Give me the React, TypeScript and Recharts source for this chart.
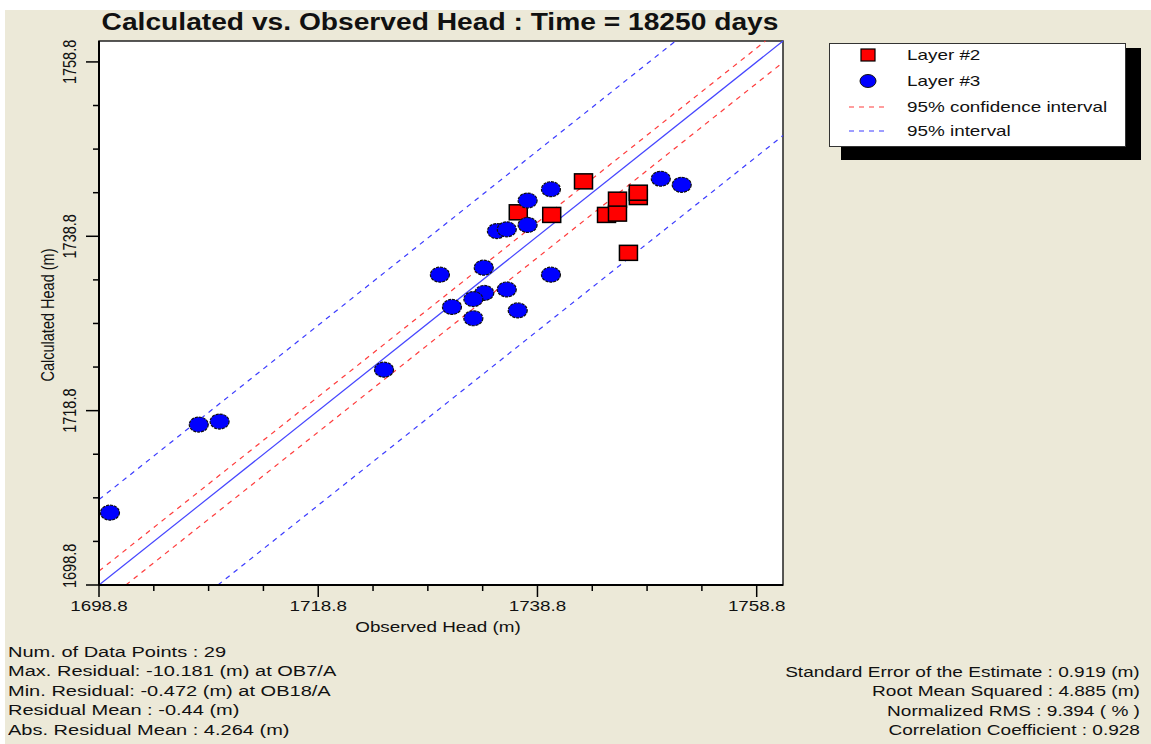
import React from 'react';
import { ScatterChart, Scatter, XAxis, YAxis, CartesianGrid, ReferenceLine, ReferenceArea } from 'recharts';

const DOMAIN: [number, number] = [1698.8, 1761.2];
const AXIS_TICKS = [1698.8, 1703.8, 1708.8, 1713.8, 1718.8, 1723.8, 1728.8, 1733.8, 1738.8, 1743.8, 1748.8, 1753.8, 1758.8];
const LABELLED_TICKS = [1698.8, 1718.8, 1738.8, 1758.8];

// Layer #2 (red squares)
const layer2Observed = [1743.0, 1737.05, 1740.1, 1746.1, 1748.0, 1748.0, 1745.1, 1746.1, 1747.1];
const layer2Calculated = [1745.1, 1741.55, 1741.25, 1743.0, 1743.3, 1743.8, 1741.25, 1741.4, 1736.9];

// Layer #3 (blue dots)
const layer3Observed = [
  1750.05, 1751.96, 1740.03, 1737.9, 1737.9, 1735.1, 1736.0, 1729.9, 1733.9, 1740.03,
  1733.95, 1736.0, 1732.95, 1731.0, 1732.95, 1737.0, 1724.8, 1707.9, 1709.8, 1699.8,
];
const layer3Calculated = [
  1745.4, 1744.7, 1744.2, 1742.9, 1740.1, 1739.4, 1739.6, 1734.4, 1735.2, 1734.4,
  1732.3, 1732.7, 1731.6, 1730.7, 1729.4, 1730.3, 1723.5, 1717.2, 1717.55, 1707.1,
];

// offsets of the interval lines from the 1:1 line
const CONFIDENCE_OFFSETS = [1.6, -2.45];
const INTERVAL_OFFSETS = [9.8, -10.85];

const LEFT_STATS = [
  'Num. of Data Points : 29',
  'Max. Residual: -10.181 (m) at OB7/A',
  'Min. Residual: -0.472 (m) at OB18/A',
  'Residual Mean : -0.44 (m)',
  'Abs. Residual Mean : 4.264 (m)',
];
const RIGHT_STATS = [
  'Standard Error of the Estimate : 0.919 (m)',
  'Root Mean Squared : 4.885 (m)',
  'Normalized RMS : 9.394 ( % )',
  'Correlation Coefficient : 0.928',
];

const FONT = '"Liberation Sans", Arial, sans-serif';
const STRETCH = 1.3;

const layer2 = layer2Observed.map((x, i) => ({ x, y: layer2Calculated[i] }));
const layer3 = layer3Observed.map((x, i) => ({ x, y: layer3Calculated[i] }));

// clip y = x + c to the square domain
const segmentFor = (c: number) => {
  const [lo, hi] = DOMAIN;
  const x1 = Math.max(lo, lo - c);
  const x2 = Math.min(hi, hi - c);
  return [
    { x: x1, y: x1 + c },
    { x: x2, y: x2 + c },
  ];
};

const SquareMark = (props: any) => {
  const { cx, cy } = props;
  if (cx == null || cy == null) return null;
  return <rect x={cx - 9} y={cy - 7.5} width={18} height={15} fill="#ff0000" stroke="#000" strokeWidth={1.5} />;
};

const DotMark = (props: any) => {
  const { cx, cy } = props;
  if (cx == null || cy == null) return null;
  return <ellipse cx={cx} cy={cy} rx={9.5} ry={7.5} fill="#0000ff" stroke="#111" strokeWidth={1.2} strokeDasharray="3 1" />;
};

const XTick = (props: any) => {
  const { x, y, payload } = props;
  const major = LABELLED_TICKS.includes(payload.value);
  return (
    <g>
      <line x1={x} y1={y} x2={x} y2={y + (major ? 12 : 6)} stroke="#000" strokeWidth={1.5} />
      {major && (
        <text
          x={x}
          y={y + 26}
          textAnchor="middle"
          fontSize={14.5}
          fontFamily={FONT}
          fill="#111"
          transform={`translate(${x} 0) scale(${STRETCH} 1) translate(${-x} 0)`}
        >
          {payload.value.toFixed(1)}
        </text>
      )}
    </g>
  );
};

const YTick = (props: any) => {
  const { x, y, payload } = props;
  const major = LABELLED_TICKS.includes(payload.value);
  const isMin = payload.value === DOMAIN[0];
  const tx = x - 23;
  const ty = isMin ? y + 3 : y;
  return (
    <g>
      <line x1={x} y1={y} x2={x - (major ? 13 : 6)} y2={y} stroke="#000" strokeWidth={1.5} />
      {major && (
        <text
          x={0}
          y={0}
          textAnchor={isMin ? 'start' : 'middle'}
          fontSize={14.5}
          fontFamily={FONT}
          fill="#111"
          transform={`translate(${tx} ${ty}) scale(${STRETCH} 1) rotate(-90)`}
        >
          {payload.value.toFixed(1)}
        </text>
      )}
    </g>
  );
};

const stretched = (origin: string, k: number = STRETCH): React.CSSProperties => ({
  transform: `scaleX(${k})`,
  transformOrigin: origin,
  whiteSpace: 'nowrap',
});

const LegendRow = ({ top, marker, label }: { top: number; marker: React.ReactNode; label: string }) => (
  <div style={{ position: 'absolute', left: 0, top: top - 10, height: 20, width: 290 }}>
    <svg width={60} height={20} style={{ position: 'absolute', left: 14, top: 0 }}>
      {marker}
    </svg>
    <div style={{ position: 'absolute', left: 77, top: 0, lineHeight: '20px', fontSize: 14.5, ...stretched('left') }}>{label}</div>
  </div>
);

export default function App() {
  return (
    <div
      style={{
        position: 'absolute',
        left: 0,
        top: 0,
        width: 1151,
        height: 744,
        background: '#ffffff',
        fontFamily: FONT,
        color: '#111',
        overflow: 'hidden',
      }}
    >
      <div style={{ position: 'absolute', left: 5, top: 10, right: 0, bottom: 0, background: '#ece9d8' }} />

      <div style={{ position: 'absolute', left: 0, top: 0 }}>
        <ScatterChart width={1151} height={744} margin={{ top: 41, right: 368, bottom: 0, left: 0 }}>
          <CartesianGrid horizontal={false} vertical={false} fill="#ffffff" fillOpacity={1} />
          <XAxis
            type="number"
            dataKey="x"
            domain={DOMAIN}
            ticks={AXIS_TICKS}
            interval={0}
            allowDataOverflow
            height={159}
            tickSize={0}
            tickMargin={0}
            tickLine={false}
            tick={<XTick />}
            axisLine={{ stroke: '#000', strokeWidth: 2 }}
          />
          <YAxis
            type="number"
            dataKey="y"
            domain={DOMAIN}
            ticks={AXIS_TICKS}
            interval={0}
            allowDataOverflow
            width={99}
            tickSize={0}
            tickMargin={0}
            tickLine={false}
            tick={<YTick />}
            axisLine={{ stroke: '#000', strokeWidth: 2 }}
          />
          <Scatter name="Layer #2" data={layer2} shape={<SquareMark />} isAnimationActive={false} />
          <Scatter name="Layer #3" data={layer3} shape={<DotMark />} isAnimationActive={false} />
          <ReferenceLine segment={segmentFor(0)} stroke="#4646ff" strokeWidth={1.2} />
          {CONFIDENCE_OFFSETS.map((c) => (
            <ReferenceLine key={`ci-${c}`} segment={segmentFor(c)} stroke="#ff3c3c" strokeWidth={1.2} strokeDasharray="5 5" />
          ))}
          {INTERVAL_OFFSETS.map((c) => (
            <ReferenceLine key={`pi-${c}`} segment={segmentFor(c)} stroke="#3c3cff" strokeWidth={1.2} strokeDasharray="5 5" />
          ))}
          <ReferenceArea
            x1={DOMAIN[0]}
            x2={DOMAIN[1]}
            y1={DOMAIN[0]}
            y2={DOMAIN[1]}
            fill="none"
            fillOpacity={0}
            stroke="#222"
            strokeWidth={1.5}
            ifOverflow="visible"
          />
        </ScatterChart>
      </div>

      {/* title */}
      <div
        style={{
          position: 'absolute',
          left: 0,
          width: 880,
          top: 8,
          lineHeight: '28px',
          textAlign: 'center',
          fontSize: 23,
          fontWeight: 'bold',
          ...stretched('center', 1.225),
        }}
      >
        Calculated vs. Observed Head : Time = 18250 days
      </div>

      {/* axis titles */}
      <div style={{ position: 'absolute', left: 0, width: 876, top: 617, lineHeight: '20px', textAlign: 'center', fontSize: 14.5, ...stretched('center') }}>
        Observed Head (m)
      </div>
      <div
        style={{
          position: 'absolute',
          left: 47 - 100,
          top: 315 - 10,
          width: 200,
          lineHeight: '20px',
          textAlign: 'center',
          fontSize: 14.5,
          transform: `scaleX(${STRETCH}) rotate(-90deg)`,
          transformOrigin: 'center',
          whiteSpace: 'nowrap',
        }}
      >
        Calculated Head (m)
      </div>

      {/* legend */}
      <div style={{ position: 'absolute', left: 841, top: 48, width: 300, height: 112, background: '#000' }} />
      <div style={{ position: 'absolute', left: 829, top: 43, width: 295, height: 102, background: '#fff', border: '1.5px solid #333' }}>
        <LegendRow
          top={11}
          label="Layer #2"
          marker={<rect x={17} y={4} width={14} height={12} fill="#ff0000" stroke="#000" strokeWidth={1.2} />}
        />
        <LegendRow
          top={37}
          label="Layer #3"
          marker={<ellipse cx={24} cy={10} rx={8} ry={6.5} fill="#0000ff" stroke="#111" strokeWidth={1} />}
        />
        <LegendRow
          top={63}
          label="95% confidence interval"
          marker={<line x1={5} y1={10} x2={44} y2={10} stroke="#ff3c3c" strokeWidth={1.2} strokeDasharray="5 5" />}
        />
        <LegendRow
          top={87}
          label="95% interval"
          marker={<line x1={5} y1={10} x2={44} y2={10} stroke="#3c3cff" strokeWidth={1.2} strokeDasharray="5 5" />}
        />
      </div>

      {/* statistics */}
      {LEFT_STATS.map((s, i) => (
        <div key={s} style={{ position: 'absolute', left: 8, top: 642 + i * 19.4, lineHeight: '20px', fontSize: 14, ...stretched('left', 1.43) }}>
          {s}
        </div>
      ))}
      {RIGHT_STATS.map((s, i) => (
        <div
          key={s}
          style={{
            position: 'absolute',
            right: 11,
            top: 662 + i * 19.4,
            lineHeight: '20px',
            fontSize: 14,
            textAlign: 'right',
            ...stretched('right', 1.36),
          }}
        >
          {s}
        </div>
      ))}
    </div>
  );
}
